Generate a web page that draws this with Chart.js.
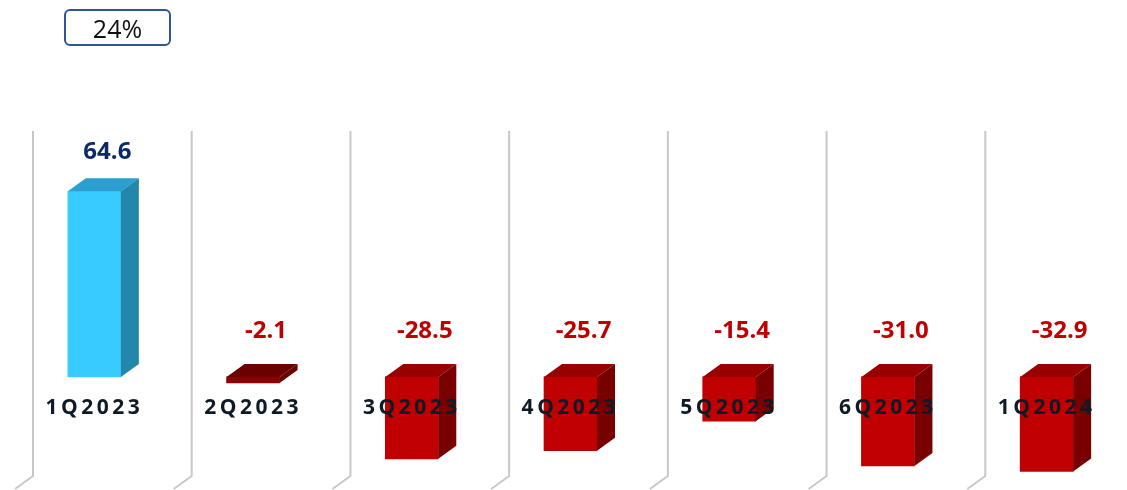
<!DOCTYPE html>
<html>
<head>
<meta charset="utf-8">
<script src="https://cdn.jsdelivr.net/npm/chart.js@4"></script>
<style>
  html, body { margin: 0; padding: 0; background: #fff; overflow: hidden; }
  #wrap { position: relative; width: 1127px; height: 490px; }
  #share {
    position: absolute; left: 64px; top: 9px; width: 103px; height: 33px;
    border: 2px solid #2f5597; border-radius: 6px;
    font: 25px "Open Sans", sans-serif; color: #111;
    display: flex; align-items: center; justify-content: center;
  }
</style>
</head>
<body>
<div id="wrap">
  <canvas id="chart" width="1127" height="490"></canvas>
  <div id="share">24%</div>
</div>
<script>
// datos del grafico
const quarters = ['1Q2023', '2Q2023', '3Q2023', '4Q2023', '5Q2023', '6Q2023', '1Q2024'];
const changes = [64.6, -2.1, -28.5, -25.7, -15.4, -31.0, -32.9];

const DX = 18, DY = 13; // profundidad del efecto 3D

function faceColors(v) {
    if (v >= 0) return { front: '#38cbff', top: '#2b9fcf', side: '#2386ab', label: '#0b2a66' };
    if (v > -5) return { front: '#8a0000', top: '#6a0000', side: '#6a0000', label: '#c00000' };
    return { front: '#c00000', top: '#990000', side: '#780000', label: '#c00000' };
}

const threeD = {
    id: 'threeD',
    beforeDatasetsDraw(chart) {
        // lineas de la pared del fondo y del suelo
        const ctx = chart.ctx;
        const x = chart.scales.x;
        const area = chart.chartArea;
        const step = (x.right - x.left) / quarters.length;
        ctx.save();
        ctx.strokeStyle = '#c8c8c8';
        ctx.lineWidth = 2;
        for (let i = 0; i < quarters.length; i++) {
            const xf = x.left + i * step;
            ctx.beginPath();
            ctx.moveTo(xf + DX, area.top);
            ctx.lineTo(xf + DX, area.bottom - DY);
            ctx.lineTo(xf, area.bottom);
            ctx.stroke();
        }
        ctx.restore();
    },
    afterDatasetsDraw(chart) {
        const ctx = chart.ctx;
        const zero = chart.scales.y.getPixelForValue(0);
        const bars = chart.getDatasetMeta(0).data;
        ctx.save();
        bars.forEach((bar, i) => {
            const v = changes[i];
            const c = faceColors(v);
            const x0 = bar.x - bar.width / 2, x1 = bar.x + bar.width / 2;
            const yT = Math.min(bar.y, bar.base), yB = Math.max(bar.y, bar.base);
            // cara superior
            ctx.fillStyle = c.top;
            ctx.beginPath();
            ctx.moveTo(x0, yT);
            ctx.lineTo(x0 + DX, yT - DY);
            ctx.lineTo(x1 + DX, yT - DY);
            ctx.lineTo(x1, yT);
            ctx.closePath();
            ctx.fill();
            // cara lateral
            ctx.fillStyle = c.side;
            ctx.beginPath();
            ctx.moveTo(x1, yT);
            ctx.lineTo(x1 + DX, yT - DY);
            ctx.lineTo(x1 + DX, yB - DY);
            ctx.lineTo(x1, yB);
            ctx.closePath();
            ctx.fill();

            // etiqueta del valor
            ctx.fillStyle = c.label;
            ctx.font = 'bold 24px "Open Sans", sans-serif';
            ctx.textAlign = 'center';
            ctx.textBaseline = 'middle';
            const ly = v >= 0 ? yT - DY - 26 : zero - 46;
            ctx.fillText(v.toFixed(1), bar.x + 13, ly);

            // etiqueta de la categoria
            ctx.fillStyle = '#0e1a26';
            ctx.font = 'bold 21px "Open Sans", sans-serif';
            ctx.letterSpacing = '3.5px';
            ctx.fillText(quarters[i], bar.x, zero + 31);
            ctx.letterSpacing = '0px';
        });
        ctx.restore();
    }
};

new Chart(document.getElementById('chart'), {
    type: 'bar',
    data: {
        labels: quarters,
        datasets: [{
            data: changes,
            backgroundColor: changes.map(v => faceColors(v).front),
            borderWidth: 0,
            barThickness: 53
        }]
    },
    options: {
        responsive: false,
        animation: false,
        layout: { padding: { top: 131, bottom: 1, left: 15, right: 1 } },
        plugins: { legend: { display: false }, tooltip: { enabled: false } },
        scales: {
            x: { display: false },
            y: { display: false, min: -39.0, max: 85.6 }
        }
    },
    plugins: [threeD]
});
</script>
</body>
</html>
